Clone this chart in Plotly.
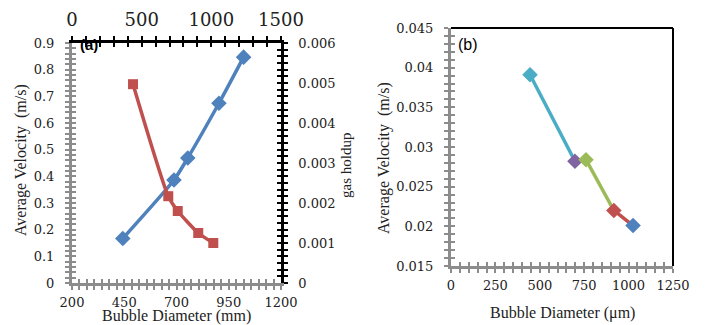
import plotly.graph_objects as go

# ---------------- data ----------------
# Panel (a)
blue_diam = [443, 688, 754, 903, 1021]            # bottom axis, Bubble Diameter
blue_velocity = [0.167, 0.386, 0.469, 0.674, 0.847]
red_diam = [438, 691, 759, 906, 1014]             # top axis
red_holdup = [0.00497, 0.00217, 0.00180, 0.00125, 0.00100]

a_left_ticks = [0, 0.1, 0.2, 0.3, 0.4, 0.5, 0.6, 0.7, 0.8, 0.9]
a_left_labels = ["0", "0.1", "0.2", "0.3", "0.4", "0.5", "0.6", "0.7", "0.8", "0.9"]
a_right_ticks = [0, 0.001, 0.002, 0.003, 0.004, 0.005, 0.006]
a_right_labels = ["0", "0.001", "0.002", "0.003", "0.004", "0.005", "0.006"]
a_bottom_ticks = [200, 450, 700, 950, 1200]
a_bottom_labels = ["200", "450", "700", "950", "1200"]
a_top_ticks = [0, 500, 1000, 1500]
a_top_labels = ["0", "500", "1000", "1500"]

# Panel (b)
b_diam = [445, 698, 760, 917, 1025]
b_velocity = [0.0391, 0.0282, 0.0284, 0.0220, 0.0201]
b_colors = ["#4BACC6", "#8064A2", "#9BBB59", "#C0504D", "#4F81BD"]
b_y_ticks = [0.015, 0.02, 0.025, 0.03, 0.035, 0.04, 0.045]
b_y_labels = ["0.015", "0.02", "0.025", "0.03", "0.035", "0.04", "0.045"]
b_x_ticks = [0, 250, 500, 750, 1000, 1250]
b_x_labels = ["0", "250", "500", "750", "1000", "1250"]

# ---------------- layout helpers ----------------
W, H = 706, 325
def px(x): return x / W
def py(y): return 1 - y / H

GRAY = "#8C8C8C"
BLACK = "#000000"
TXT = "#222222"
SERIF = "DejaVu Serif"
TSERIF = "Liberation Serif"
SANS = "Liberation Sans"

a_xdom = [px(72), px(281)]
a_ydom = [py(283), py(43)]
b_xdom = [px(451), px(673)]
b_ydom = [py(266), py(28)]

fig = go.Figure()

# panel (a) traces
fig.add_trace(go.Scatter(x=blue_diam, y=blue_velocity, mode="lines+markers",
                         line=dict(color="#4F81BD", width=3.5, shape="spline", smoothing=0.6),
                         marker=dict(symbol="diamond", size=12, color="#4F81BD"),
                         xaxis="x", yaxis="y", showlegend=False))
fig.add_trace(go.Scatter(x=red_diam, y=red_holdup, mode="lines+markers",
                         line=dict(color="#C0504D", width=3.5, shape="spline", smoothing=0.6),
                         marker=dict(symbol="square", size=10, color="#C0504D"),
                         xaxis="x2", yaxis="y2", showlegend=False))

# panel (b) segments
for i in range(len(b_diam) - 1):
    fig.add_trace(go.Scatter(x=b_diam[i:i + 2], y=b_velocity[i:i + 2], mode="lines",
                             line=dict(color=b_colors[i], width=3.5),
                             xaxis="x3", yaxis="y3", showlegend=False, hoverinfo="skip"))
fig.add_trace(go.Scatter(x=b_diam, y=b_velocity, mode="markers",
                         marker=dict(symbol="diamond", size=12, color=b_colors),
                         xaxis="x3", yaxis="y3", showlegend=False))

# empty traces to create the inside-tick overlay subplots
for xa, ya in [("x4", "y4"), ("x5", "y5"), ("x6", "y6")]:
    fig.add_trace(go.Scatter(x=[None], y=[None], xaxis=xa, yaxis=ya,
                             showlegend=False, hoverinfo="skip"))

tickfont = dict(family=SERIF, size=13, color=TXT)

def ax(**kw):
    d = dict(showgrid=False, zeroline=False, showline=True, ticks="outside",
             ticklen=4, tickwidth=2, tickfont=tickfont, fixedrange=True, automargin=False)
    d.update(kw)
    return d

def inner(**kw):
    d = dict(showgrid=False, zeroline=False, showline=False, ticks="inside",
             ticklen=4, tickwidth=2, showticklabels=False, fixedrange=True, automargin=False)
    d.update(kw)
    return d

def note(text, x, y, size, family=TSERIF, angle=0, color=TXT):
    return dict(text=text, x=px(x), y=py(y), xref="paper", yref="paper",
                xanchor="center", yanchor="middle", textangle=angle, showarrow=False,
                font=dict(family=family, size=size, color=color))

fig.update_layout(
    width=W, height=H, margin=dict(l=0, r=0, t=0, b=0, autoexpand=False),
    paper_bgcolor="white", plot_bgcolor="rgba(0,0,0,0)",
    # panel (a) bottom / left (gray)
    xaxis=ax(domain=a_xdom, anchor="y", range=[200, 1200], tickvals=a_bottom_ticks,
             ticktext=a_bottom_labels, linecolor=GRAY, linewidth=3, tickcolor=GRAY,
             ticklabelstandoff=1,
             minor=dict(dtick=250 / 7, tick0=200, ticks="outside", ticklen=4, tickwidth=2, tickcolor=GRAY)),
    yaxis=ax(domain=a_ydom, anchor="x", range=[0, 0.9], tickvals=a_left_ticks,
             ticktext=a_left_labels, linecolor=GRAY, linewidth=3, tickcolor=GRAY,
             ticklabelstandoff=8,
             minor=dict(dtick=0.02, tick0=0, ticks="outside", ticklen=4, tickwidth=2, tickcolor=GRAY)),
    # panel (a) top / right (black)
    xaxis2=ax(overlaying="x", anchor="y", side="top", range=[0, 1500], tickvals=a_top_ticks,
              ticktext=a_top_labels, linecolor=BLACK, linewidth=2.5, tickcolor=BLACK,
              tickfont=dict(family=SERIF, size=18, color=TXT), ticklabelstandoff=3,
              minor=dict(dtick=100, tick0=0, ticks="outside", ticklen=4, tickwidth=2, tickcolor=BLACK)),
    yaxis2=ax(overlaying="y", anchor="x", side="right", range=[0, 0.006], tickvals=a_right_ticks,
              ticktext=a_right_labels, linecolor=BLACK, linewidth=2.5, tickcolor=BLACK,
              ticklabelstandoff=8,
              minor=dict(dtick=0.001 / 6, tick0=0, ticks="outside", ticklen=4, tickwidth=2, tickcolor=BLACK)),
    # panel (b)
    xaxis3=ax(domain=b_xdom, anchor="y3", range=[0, 1250], tickvals=b_x_ticks,
              ticktext=b_x_labels, linecolor=GRAY, linewidth=3, tickcolor=GRAY,
              ticklabelstandoff=1,
              minor=dict(dtick=50, tick0=0, ticks="outside", ticklen=4, tickwidth=2, tickcolor=GRAY)),
    yaxis3=ax(domain=b_ydom, anchor="x3", range=[0.015, 0.045], tickvals=b_y_ticks,
              ticktext=b_y_labels, linecolor=GRAY, linewidth=3, tickcolor=GRAY,
              ticklabelstandoff=8,
              minor=dict(dtick=0.001, tick0=0.015, ticks="outside", ticklen=4, tickwidth=2, tickcolor=GRAY)),
    # inside ticks (cross tick style)
    xaxis4=inner(overlaying="x", anchor="y4", range=[200, 1200], tickvals=a_bottom_ticks, tickcolor=GRAY,
                 minor=dict(dtick=250 / 7, tick0=200, ticks="inside", ticklen=4, tickwidth=2, tickcolor=GRAY)),
    yaxis4=inner(overlaying="y", anchor="x4", range=[0, 0.9], tickvals=a_left_ticks, tickcolor=GRAY,
                 minor=dict(dtick=0.02, tick0=0, ticks="inside", ticklen=4, tickwidth=2, tickcolor=GRAY)),
    xaxis5=inner(overlaying="x", anchor="y5", side="top", range=[0, 1500], tickvals=a_top_ticks, tickcolor=BLACK,
                 minor=dict(dtick=100, tick0=0, ticks="inside", ticklen=4, tickwidth=2, tickcolor=BLACK)),
    yaxis5=inner(overlaying="y", anchor="x5", side="right", range=[0, 0.006], tickvals=a_right_ticks, tickcolor=BLACK,
                 minor=dict(dtick=0.001 / 6, tick0=0, ticks="inside", ticklen=4, tickwidth=2, tickcolor=BLACK)),
    xaxis6=inner(overlaying="x3", anchor="y6", range=[0, 1250], tickvals=b_x_ticks, tickcolor=GRAY,
                 minor=dict(dtick=50, tick0=0, ticks="inside", ticklen=4, tickwidth=2, tickcolor=GRAY)),
    yaxis6=inner(overlaying="y3", anchor="x6", range=[0.015, 0.045], tickvals=b_y_ticks, tickcolor=GRAY,
                 minor=dict(dtick=0.001, tick0=0.015, ticks="inside", ticklen=4, tickwidth=2, tickcolor=GRAY)),
    shapes=[
        dict(type="line", xref="paper", yref="paper", x0=b_xdom[0], x1=b_xdom[1], y0=b_ydom[1], y1=b_ydom[1],
             line=dict(color=BLACK, width=2)),
        dict(type="line", xref="paper", yref="paper", x0=b_xdom[1], x1=b_xdom[1], y0=b_ydom[0], y1=b_ydom[1],
             line=dict(color=BLACK, width=2)),
    ],
    annotations=[
        note("Average Velocity  (m/s)", 21, 160, 16, angle=-90),
        note("gas holdup", 346, 166, 15, angle=-90),
        note("Bubble Diameter (mm)", 176, 316, 16),
        note("<b>(a)</b>", 89, 45, 15, family=SANS, color=BLACK),
        note("Average Velocity  (m/s)", 384, 158, 16, angle=-90),
        note("Bubble Diameter (\u03bcm)", 562, 313, 16),
        note("(b)", 468, 45, 16, family=SANS, color=BLACK),
    ],
)

fig.write_html("out.html")
